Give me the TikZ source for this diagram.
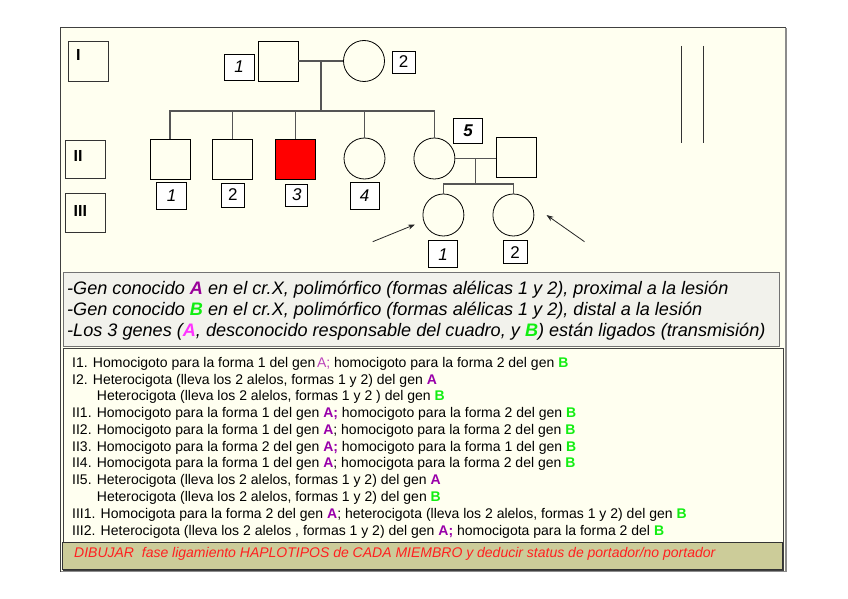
\documentclass[tikz,border=0pt]{standalone}
\usepackage{fontspec}
\setmainfont{Liberation Sans}
\usetikzlibrary{shapes.geometric,arrows.meta}
\definecolor{frameBg}{HTML}{FFFFF0}
\definecolor{geneBg}{HTML}{F2F2EC}
\definecolor{barBg}{HTML}{CCCC99}
\definecolor{genA}{HTML}{9900AA}
\definecolor{genAdark}{HTML}{990099}
\definecolor{genAmag}{HTML}{FF33FF}
\definecolor{genAlight}{HTML}{BB44BB}
\definecolor{genB}{HTML}{11EE11}
\definecolor{redtxt}{HTML}{FF2020}
\definecolor{pline}{HTML}{555555}
\newcommand{\xA}{\textbf{\color{genA}A}}
\newcommand{\xB}{\textbf{\color{genB}B}}
\begin{document}
\begin{tikzpicture}[x=1pt,y=-1pt,
  sqbox/.style={draw=black,line width=0.8pt,fill=frameBg,minimum width=40pt,minimum height=40pt,inner sep=0pt},
  crbox/.style={draw=black,line width=0.8pt,fill=frameBg,ellipse,minimum width=41pt,minimum height=41pt,inner sep=0pt},
  numbox/.style={draw=black,line width=0.8pt,fill=white,inner sep=0pt,font=\fontsize{17}{19}\selectfont\itshape},
  genbox/.style={draw=black!80,line width=0.8pt,fill=frameBg,minimum width=40pt,inner sep=0pt},
  gentxt/.style={anchor=north west,inner sep=0pt,font=\fontsize{16}{18}\selectfont\bfseries},
  pl/.style={draw=pline,line width=1.1pt},
  arr/.style={draw=black!85,line width=0.8pt,-{Stealth[length=7pt,width=5pt]}},
  gtxt/.style={anchor=base west,inner sep=0pt,font=\fontsize{18.1}{20}\selectfont\itshape},
  lst/.style={anchor=base west,inner sep=0pt,font=\fontsize{14}{16}\selectfont},
  redt/.style={anchor=base west,inner sep=0pt,text=redtxt,font=\fontsize{14}{16}\selectfont\itshape}
]
\useasboundingbox (0,0) rectangle (848,599);
\fill[white] (0,0) rectangle (848,599);
% outer frame
\draw[fill=frameBg,draw=black!75,line width=0.8pt] (60,27) rectangle (785,571);
\draw[draw=black!45,line width=1.6pt] (786,28) -- (786,571.5) -- (61,571.5);

% generation boxes
\node[genbox,minimum height=40pt] (gI) at (88.3,61) {};
\node[genbox,minimum height=38pt] (gII) at (85.5,159) {};
\node[genbox,minimum height=39pt] (gIII) at (85.5,212.5) {};
\node[gentxt] (tI) at (76,49.5) {I};
\node[gentxt] (tII) at (73.5,150.5) {II};
\node[gentxt] (tIII) at (73.5,205.5) {III};

% generation I
\node[sqbox] (I1) at (278,61) {};
\node[crbox] (I2) at (364,61) {};
\node[numbox,minimum width=30pt,minimum height=26pt] (nI1) at (239,67) {1};
\node[numbox,minimum width=23pt,minimum height=22pt,font=\fontsize{17}{19}\selectfont] (nI2) at (403.5,62) {2};

% generation II
\node[sqbox] (II1) at (170,159) {};
\node[sqbox] (II2) at (232.5,159) {};
\node[sqbox,fill=red] (II3) at (295.5,159) {};
\node[crbox] (II4) at (364.5,158.5) {};
\node[crbox] (II5) at (434.4,158.5) {};
\node[sqbox] (II6) at (516,157.7) {};
\node[numbox,minimum width=30pt,minimum height=27pt] (nII1) at (171.5,195.5) {1};
\node[numbox,minimum width=23pt,minimum height=24pt,font=\fontsize{17}{19}\selectfont] (nII2) at (232.8,195) {2};
\node[numbox,minimum width=22pt,minimum height=22pt] (nII3) at (296.8,195) {3};
\node[numbox,minimum width=29pt,minimum height=27pt] (nII4) at (364.7,195.5) {4};
\node[numbox,minimum width=29pt,minimum height=25pt,font=\fontsize{17}{19}\selectfont\bfseries\itshape] (nII5) at (468.2,130.5) {5};

% generation III
\node[crbox,minimum height=42pt] (III1) at (443.4,215) {};
\node[crbox,minimum height=42pt] (III2) at (513.4,215) {};
\node[numbox,minimum width=29pt,minimum height=27pt] (nIII1) at (443.2,254.3) {1};
\node[numbox,minimum width=24pt,minimum height=23pt,font=\fontsize{17}{19}\selectfont] (nIII2) at (515,252.3) {2};

% connectors
\coordinate (m1) at (321,61);
\coordinate (s1) at (321,111);
\draw[pl] (I1.east) -- (I2.west);
\draw[pl] (m1) -- (s1);
\draw[pl] (II1.north) |- (II5.north |- s1) -- (II5.north);
\draw[pl] (II2.north) -- (II2.north |- s1);
\draw[pl] (II3.north) -- (II3.north |- s1);
\draw[pl] (II4.north) -- (II4.north |- s1);
\coordinate (m2) at (475.8,158.5);
\coordinate (s2) at (475.8,184);
\draw[pl] (II5.east) -- (II6.west |- II5.east);
\draw[pl] (m2) -- (s2);
\draw[pl] (III1.north) |- (III2.north |- s2) -- (III2.north);

% arrows
\coordinate (a1s) at (372.7,241.7);
\coordinate (a1e) at (415,224.5);
\coordinate (a2s) at (584.5,241.7);
\coordinate (a2e) at (546.5,215);
\draw[arr] (a1s) -- (a1e);
\draw[arr] (a2s) -- (a2e);

% double vertical lines
\coordinate (v1a) at (681,46); \coordinate (v1b) at (681,143);
\coordinate (v2a) at (703.5,46); \coordinate (v2b) at (703.5,143);
\draw[black!80,line width=0.9pt] (v1a) -- (v1b);
\draw[black!80,line width=0.9pt] (v2a) -- (v2b);

% gene box
\draw[fill=geneBg,draw=black!55,line width=0.9pt] (63,272) rectangle (779,346);
\node[gtxt] (g1) at (67,294.3) {-Gen conocido \textbf{\color{genAdark}A} en el cr.X, polimórfico (formas alélicas 1 y 2), proximal a la lesión};
\node[gtxt] (g2) at (67,315.5) {-Gen conocido \textbf{\color{genB}B} en el cr.X, polimórfico (formas alélicas 1 y 2), distal a la lesión};
\node[gtxt] (g3) at (67,336.7) {-Los 3 genes (\textbf{\color{genAmag}A}, desconocido responsable del cuadro, y \textbf{\color{genB}B}) están ligados (transmisión)};

% list box
\draw[fill=frameBg,draw=black!75,line width=0.9pt] (63,348) rectangle (783,570);
\node[lst] (l1) at (72,367.3) {I1. Homocigoto para la forma 1 del gen{\color{genAlight}\kern1.5pt A;} homocigoto para la forma 2 del gen \xB};
\node[lst] (l2) at (72,384.1) {I2. Heterocigota (lleva los 2 alelos, formas 1 y 2) del gen \xA};
\node[lst] (l3) at (96.7,400.8) {Heterocigota (lleva los 2 alelos, formas 1 y 2 ) del gen \xB};
\node[lst] (l4) at (72,417.6) {II1. Homocigoto para la forma 1 del gen \textbf{\color{genA}A;} homocigoto para la forma 2 del gen \xB};
\node[lst] (l5) at (72,434.4) {II2. Homocigoto para la forma 1 del gen \xA; homocigoto para la forma 2 del gen \xB};
\node[lst] (l6) at (72,451.2) {II3. Homocigoto para la forma 2 del gen \textbf{\color{genA}A;} homocigoto para la forma 1 del gen \xB};
\node[lst] (l7) at (72,467.9) {II4. Homocigota para la forma 1 del gen \xA; homocigota para la forma 2 del gen \xB};
\node[lst] (l8) at (72,484.7) {II5. Heterocigota (lleva los 2 alelos, formas 1 y 2) del gen \xA};
\node[lst] (l9) at (96.7,501.5) {Heterocigota (lleva los 2 alelos, formas 1 y 2) del gen \xB};
\node[lst] (l10) at (72,518.2) {III1. Homocigota para la forma 2 del gen \xA; heterocigota (lleva los 2 alelos, formas 1 y 2) del gen \xB};
\node[lst] (l11) at (72,535.0) {III2. Heterocigota (lleva los 2 alelos , formas 1 y 2) del gen \textbf{\color{genA}A;} homocigota para la forma 2 del \xB};

% bottom bar
\draw[fill=barBg,draw=black!80,line width=0.9pt] (62,542) rectangle (782,569);
\node[redt] (r1) at (74,557.3) {DIBUJAR\ \ fase ligamiento HAPLOTIPOS de CADA MIEMBRO y deducir status de portador/no portador};
\end{tikzpicture}
\end{document}
